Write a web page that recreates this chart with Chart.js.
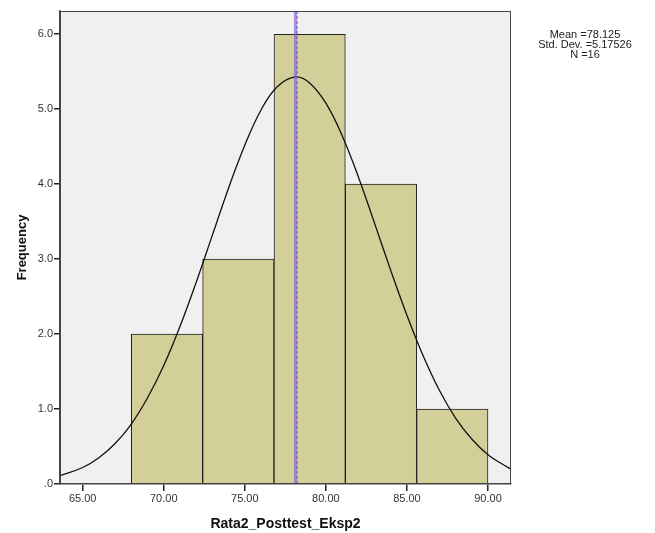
<!DOCTYPE html>
<html>
<head>
<meta charset="utf-8">
<script src="https://cdn.jsdelivr.net/npm/chart.js@4.4.1/dist/chart.umd.min.js"></script>
<style>
  html, body { margin: 0; padding: 0; background: #fff; }
  #wrap { width: 655px; height: 533px; }
</style>
</head>
<body>
<div id="wrap"><canvas id="myChart" width="655" height="533"></canvas></div>
<script>
// histogram bins (centres) and counts
const binCenters = [70.2, 74.6, 79.0, 83.4, 87.8];
const counts = [2, 3, 6, 4, 1];

// normal curve
const curveX = [63.6, 65, 66, 67, 68, 69, 70, 71, 72, 73, 74, 75, 76, 77, 78.125, 79, 80, 81, 82, 83, 84, 85, 86, 87, 88, 89, 90, 91, 91.4];
const curveY = [0.11, 0.22, 0.35, 0.54, 0.80, 1.15, 1.58, 2.10, 2.69, 3.32, 3.95, 4.52, 4.99, 5.30, 5.43, 5.35, 5.08, 4.65, 4.10, 3.48, 2.85, 2.25, 1.71, 1.25, 0.88, 0.60, 0.39, 0.25, 0.20];

const meanValue = 78.125;
const statLines = ['Mean =78.125', 'Std. Dev. =5.17526', 'N =16'];

const xTicks = [65, 70, 75, 80, 85, 90];
const yTicks = [0, 1, 2, 3, 4, 5, 6];

const FONT = 'Arial, "Liberation Sans", sans-serif';

const plotBg = {
    id: 'plotBg',
    beforeDatasetsDraw(chart) {
        const { ctx, chartArea: a } = chart;
        ctx.save();
        ctx.fillStyle = '#f0f0f0';
        ctx.fillRect(a.left, a.top, a.right - a.left, a.bottom - a.top);
        ctx.restore();
    },
    afterDraw(chart) {
        const { ctx, chartArea: a } = chart;
        ctx.save();
        ctx.strokeStyle = '#444';
        ctx.lineWidth = 1;
        ctx.strokeRect(a.left + 0.5, a.top + 0.5, a.right - a.left - 1, a.bottom - a.top - 1);
        // stats box text
        ctx.fillStyle = '#222';
        ctx.font = '11px ' + FONT;
        ctx.textAlign = 'center';
        ctx.textBaseline = 'middle';
        statLines.forEach((t, i) => ctx.fillText(t, 585, 35 + i * 10));
        ctx.restore();
    }
};

const data = {
    datasets: [
        {
            type: 'line',
            data: [{ x: meanValue, y: 0 }, { x: meanValue, y: 6.31 }],
            borderColor: 'rgba(100,100,240,0.65)',
            borderWidth: 3,
            pointRadius: 0,
            order: 1
        },
        {
            type: 'line',
            data: [{ x: meanValue + 0.1, y: 0 }, { x: meanValue + 0.1, y: 6.31 }],
            borderColor: '#e8304a',
            borderWidth: 1,
            borderDash: [3, 2],
            pointRadius: 0,
            order: 0
        },
        {
            type: 'line',
            data: curveX.map((x, i) => ({ x: x, y: curveY[i] })),
            borderColor: '#111',
            borderWidth: 1.3,
            pointRadius: 0,
            tension: 0.4,
            order: 2
        },
        {
            type: 'bar',
            data: binCenters.map((x, i) => ({ x: x, y: counts[i] })),
            backgroundColor: '#d3cf98',
            borderColor: '#222',
            borderWidth: 1,
            barPercentage: 1,
            categoryPercentage: 1,
            order: 3
        }
    ]
};

const config = {
    type: 'bar',
    data: data,
    plugins: [plotBg],
    options: {
        responsive: false,
        animation: false,
        layout: { padding: { left: 15, right: 144, top: 11, bottom: 0 } },
        plugins: { legend: { display: false }, tooltip: { enabled: false } },
        scales: {
            x: {
                type: 'linear',
                min: 63.6,
                max: 91.42,
                offset: false,
                afterBuildTicks: (s) => { s.ticks = xTicks.map(v => ({ value: v })); },
                afterFit: (s) => { s.height = 49; },
                grid: { offset: false, display: true, drawOnChartArea: false, drawTicks: true, tickLength: 7, tickColor: '#222', tickWidth: 1.5, color: '#222', lineWidth: 1.5 },
                border: { display: true, color: '#444', width: 1.5 },
                ticks: {
                    color: '#333',
                    font: { family: FONT, size: 11 },
                    padding: 1,
                    maxRotation: 0,
                    callback: (v) => Number(v).toFixed(2)
                },
                title: {
                    display: true,
                    text: 'Rata2_Posttest_Eksp2',
                    color: '#111',
                    font: { family: FONT, size: 14, weight: 'bold' },
                    padding: { top: 4, bottom: 0 }
                }
            },
            y: {
                min: 0,
                max: 6.31,
                afterBuildTicks: (s) => { s.ticks = yTicks.map(v => ({ value: v })); },
                afterFit: (s) => { s.width = 45; },
                grid: { drawOnChartArea: false, drawTicks: true, tickLength: 6, tickColor: '#222', tickWidth: 1.5, color: '#222', lineWidth: 1.5 },
                border: { display: true, color: '#444', width: 1.5 },
                ticks: {
                    color: '#333',
                    font: { family: FONT, size: 11 },
                    padding: 1,
                    callback: (v) => v === 0 ? '.0' : Number(v).toFixed(1)
                },
                title: {
                    display: true,
                    text: 'Frequency',
                    color: '#111',
                    font: { family: FONT, size: 13, weight: 'bold' },
                    padding: { top: 0, bottom: 4 }
                }
            }
        }
    }
};

const myChart = new Chart(document.getElementById('myChart'), config);
</script>
</body>
</html>
